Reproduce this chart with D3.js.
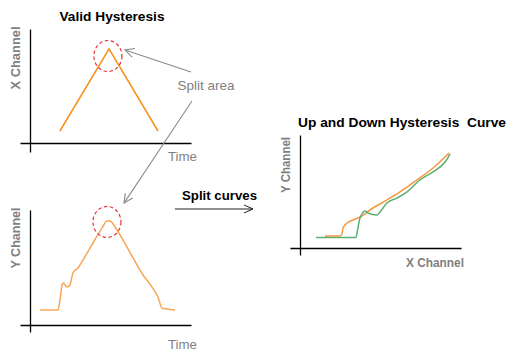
<!DOCTYPE html>
<html><head><meta charset="utf-8">
<script src="https://cdn.jsdelivr.net/npm/d3@7"></script>
<style>html,body{margin:0;padding:0;background:#fff;} svg{display:block;font-family:"Liberation Sans",Arial,sans-serif;} text{white-space:pre;}</style>
</head><body><svg id="c" width="522" height="355"></svg>
<script>
// ---- data (percent of each panel's plot range) ----
const validTime = [18.6, 49.1, 79.5];
const validX    = [10.5, 82.5, 10.5];

const yTime = [6.2, 17.4, 18.6, 19.9, 20.5, 23.0, 24.8, 26.7, 29.8, 32.9, 39.1, 44.7, 47.8, 49.7, 52.8, 57.8, 64.0, 70.2, 75.8, 79.5, 82.0, 85.1, 90.1];
const yChan = [13.0, 13.0, 21.7, 34.8, 36.5, 33.0, 34.8, 45.2, 49.6, 56.5, 71.3, 84.3, 90.4, 90.4, 85.2, 73.9, 58.3, 43.5, 33.0, 24.3, 14.8, 13.9, 13.0];

const upX = [15.5, 24.8, 26.1, 26.7, 29.2, 32.9, 37.3, 45.3, 54.0, 62.1, 72.7, 82.6, 91.3, 92.5];
const upY = [10.6, 10.6, 12.4, 17.7, 22.1, 24.8, 27.4, 35.4, 42.5, 49.6, 60.2, 70.8, 82.3, 84.1];
const downX = [9.9, 34.8, 35.4, 37.3, 40.4, 42.2, 47.8, 49.7, 54.0, 60.2, 66.5, 74.5, 82.6, 90.1, 93.2];
const downY = [9.3, 9.3, 13.3, 26.5, 32.7, 31.0, 29.2, 31.9, 39.8, 44.2, 49.6, 60.2, 67.3, 76.1, 83.2];

const titles = ["Valid Hysteresis", "Up and Down Hysteresis  Curve"];
const axisLabels = {a: ["Time", "X Channel"], b: ["Time", "Y Channel"], c: ["X Channel", "Y Channel"]};
const annotations = ["Split area", "Split curves"];

// ---- layout ----
const svg = d3.select("#c");
const GRAY = "#7f7f7f";
const layout = {
  a: {ox: 30, oy: 143, w: 161, h: 114, under: 10, below: 9},
  b: {ox: 30, oy: 325, w: 161, h: 115, under: 10, below: 7},
  c: {ox: 300, oy: 248, w: 161, h: 113, under: 10, below: 7}
};

const defs = svg.append("defs");
defs.append("marker").attr("id", "ah").attr("viewBox", "-10 -6 12 12")
  .attr("refX", 0).attr("refY", 0).attr("markerWidth", 12).attr("markerHeight", 12)
  .attr("markerUnits", "userSpaceOnUse").attr("orient", "auto")
  .append("path").attr("d", "M-9,-4.5 L0,0 L-9,4.5").attr("fill", "none")
  .attr("stroke", "#8c8c8c").attr("stroke-width", 1.1);
defs.append("marker").attr("id", "ahk").attr("viewBox", "-10 -6 12 12")
  .attr("refX", 0).attr("refY", 0).attr("markerWidth", 12).attr("markerHeight", 12)
  .attr("markerUnits", "userSpaceOnUse").attr("orient", "auto")
  .append("path").attr("d", "M-9,-4 L0,0 L-9,4").attr("fill", "none")
  .attr("stroke", "#222").attr("stroke-width", 1);

function panel(L) {
  const x = d3.scaleLinear().domain([0, 100]).range([L.ox, L.ox + L.w]);
  const y = d3.scaleLinear().domain([0, 100]).range([L.oy, L.oy - L.h]);
  const xa = x.copy().domain([x.invert(L.ox - L.under), 100]).range([L.ox - L.under, L.ox + L.w]);
  const ya = y.copy().domain([y.invert(L.oy + L.below), 100]).range([L.oy + L.below, L.oy - L.h]);
  const g = svg.append("g");
  g.append("g").attr("transform", `translate(0,${L.oy})`)
    .call(d3.axisBottom(xa).ticks(0).tickSizeOuter(0))
    .call(s => s.select(".domain").attr("stroke", "#000").attr("stroke-width", 1.3));
  g.append("g").attr("transform", `translate(${L.ox},0)`)
    .call(d3.axisLeft(ya).ticks(0).tickSizeOuter(0))
    .call(s => s.select(".domain").attr("stroke", "#000").attr("stroke-width", 1.3));
  return {x, y, g};
}

function drawLine(P, xs, ys, color, curve, w) {
  const pts = xs.map((v, i) => [v, ys[i]]);
  P.g.append("path").datum(pts)
    .attr("d", d3.line().x(d => P.x(d[0])).y(d => P.y(d[1])).curve(curve))
    .attr("fill", "none").attr("stroke", color).attr("stroke-width", w)
    .attr("stroke-linejoin", "round");
}

function ring(P, cx, cy) {
  P.g.append("ellipse").attr("cx", P.x(cx)).attr("cy", P.y(cy)).attr("rx", 14).attr("ry", 15.5)
    .attr("fill", "none").attr("stroke", "#e8323c").attr("stroke-width", 1.2)
    .attr("stroke-dasharray", "3.5,2.5");
}

function label(txt, x, y, opts) {
  const t = svg.append("text").attr("x", x).attr("y", y).text(txt)
    .attr("font-size", opts.size || 13).attr("fill", opts.fill || GRAY)
    .attr("font-weight", opts.bold ? "bold" : "normal")
    .attr("text-anchor", opts.anchor || "middle");
  if (opts.rotate) t.attr("transform", `rotate(-90,${x},${y})`);
  if (opts.len) t.attr("textLength", opts.len).attr("lengthAdjust", "spacingAndGlyphs");
  return t;
}

// Panel A
const A = panel(layout.a);
drawLine(A, validTime, validX, "#f7931e", d3.curveLinear, 1.6);
ring(A, 48.4, 76.3);
// Panel B
const B = panel(layout.b);
drawLine(B, yTime, yChan, "#f8a556", d3.curveMonotoneX, 1.5);
ring(B, 47.8, 89.6);
// Panel C
const C = panel(layout.c);
drawLine(C, upX, upY, "#f7963f", d3.curveMonotoneX, 1.5);
drawLine(C, downX, downY, "#5fae74", d3.curveMonotoneX, 1.5);

// arrows
svg.append("line").attr("x1", A.x(100)).attr("y1", A.y(62.3)).attr("x2", A.x(59)).attr("y2", A.y(81.6))
  .attr("stroke", "#8c8c8c").attr("stroke-width", 1.1).attr("marker-end", "url(#ah)");
svg.append("line").attr("x1", A.x(100.6)).attr("y1", A.y(36.8)).attr("x2", B.x(58.4)).attr("y2", B.y(106))
  .attr("stroke", "#8c8c8c").attr("stroke-width", 1.1).attr("marker-end", "url(#ah)");
svg.append("line").attr("x1", B.x(90)).attr("y1", B.y(100.9)).attr("x2", B.x(138.5)).attr("y2", B.y(100.9))
  .attr("stroke", "#222").attr("stroke-width", 1.1).attr("marker-end", "url(#ahk)");

// texts
label(titles[0], 112, 21, {bold: true, fill: "#000", size: 13, len: 105});
label(titles[1], 402, 127, {bold: true, fill: "#000", size: 13, len: 208});
label(annotations[0], 206, 90, {size: 13, len: 57});
label(annotations[1], 219.5, 200, {bold: true, fill: "#000", size: 13, len: 75});
label(axisLabels.a[0], 182.5, 161, {size: 13, len: 29});
label(axisLabels.a[1], 20, 58, {bold: true, size: 13, rotate: true, len: 63});
label(axisLabels.b[0], 182.5, 349, {size: 13, len: 29});
label(axisLabels.b[1], 20, 238, {bold: true, size: 13, rotate: true, len: 61});
label(axisLabels.c[0], 435, 267, {bold: true, size: 12, len: 58});
label(axisLabels.c[1], 289.5, 165, {bold: true, size: 12, rotate: true, len: 56});
</script></body></html>
